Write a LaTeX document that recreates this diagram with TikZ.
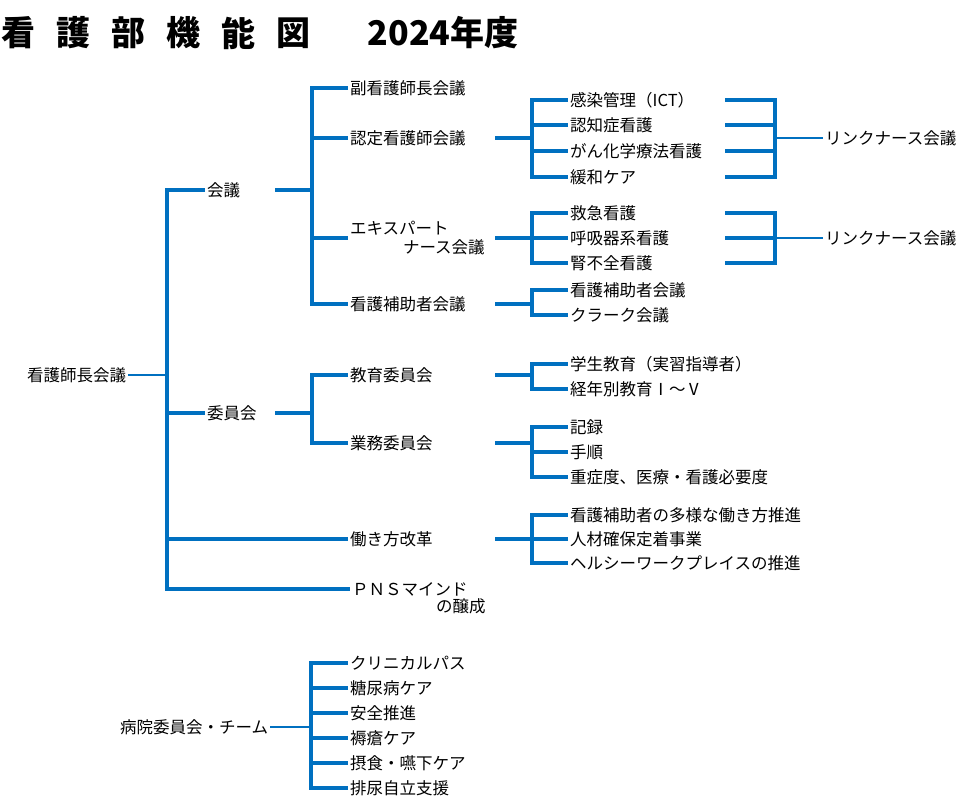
\documentclass[tikz,border=0pt]{standalone}
\usepackage{fontspec}
\newfontfamily\jpfont{Noto Sans CJK JP}
\usetikzlibrary{positioning}
\definecolor{lineblue}{RGB}{0,112,192}

\begin{document}
\begin{tikzpicture}[x=1bp, y=-1bp,
	br/.style={draw=lineblue, line width=3.4bp},
	thinbr/.style={draw=lineblue, line width=2.3bp},
	lbl/.style={anchor=west, inner xsep=2bp, inner ysep=1bp, font=\jpfont\fontsize{16.5bp}{19bp}\selectfont},
	lvone/.style={lbl, text width=66bp, align=left},
	lvtwo/.style={lbl, text width=143bp, align=left},
	lvthree/.style={lbl, text width=153bp, align=left},
	ttl/.style={inner sep=0pt, font=\jpfont\bfseries\fontsize{34bp}{40bp}\selectfont}]
\useasboundingbox (0,0) rectangle (974,803);

% title
\foreach \c [count=\i] in {看,護,部,機,能,図} {
	\node[ttl] (t\i) at ({18+55*(\i-1)},33) {\c};
}
\node[ttl] (year) at (443,33) {2024年度};

% main tree
\node[lbl] (chou) at (25,375) {看護師長会議};
\coordinate (bA) at (167,375);
\node[lvone] (kaigi) at (205,190) {会議};
\node[lvone] (iin) at (205,413) {委員会};
\node[lvtwo] (hataraki) at (348,539) {働き方改革};
\node[lbl] (pns) at (350,589) {ＰＮＳマインド};
\node[lbl, anchor=north east, xshift=18bp] (pns2) at (pns.south east) {の醸成};

\coordinate (bB) at (312,190);
\node[lbl] (fuku) at (348,88) {副看護師長会議};
\node[lvtwo] (nintei) at (348,138) {認定看護師会議};
\node[lvtwo] (expert) at (348,238) {エキスパート\\\hspace*{3.2em}ナース会議};
\node[lvtwo] (hojo) at (348,304) {看護補助者会議};

\coordinate (bC) at (312,413);
\node[lvtwo] (kyoiku) at (348,375) {教育委員会};
\node[lvtwo] (gyomu) at (348,443) {業務委員会};

\draw[thinbr] (chou.east) -- (bA);
\foreach \n in {kaigi,iin,hataraki,pns} {
	\draw[br] (bA) |- (\n.west);
}
\draw[br] (kaigi.east) -- (bB);
\foreach \n in {fuku,nintei,expert,hojo} {
	\draw[br] (bB) |- (\n.west);
}
\draw[br] (iin.east) -- (bC);
\foreach \n in {kyoiku,gyomu} {
	\draw[br] (bC) |- (\n.west);
}

% 認定看護師
\coordinate (cN) at (532,138);
\node[lvthree] (kansen) at (568,100) {感染管理（ICT）};
\node[lvthree] (ninchi) at (568,125) {認知症看護};
\node[lvthree] (gan) at (568,151) {がん化学療法看護};
\node[lvthree] (kanwa) at (568,177) {緩和ケア};
\coordinate (rN) at (775,138);
\node[lbl] (linkN) at (823,138) {リンクナース会議};
\draw[br] (nintei.east) -- (cN);
\foreach \n in {kansen,ninchi,gan,kanwa} {
	\draw[br] (cN) |- (\n.west);
	\draw[br] (\n.east) -| (rN);
}
\draw[thinbr] (rN) -- (linkN.west);

% エキスパート
\coordinate (cE) at (532,238);
\node[lvthree] (kyukyu) at (568,213) {救急看護};
\node[lvthree] (kokyu) at (568,238) {呼吸器系看護};
\node[lvthree] (jin) at (568,263) {腎不全看護};
\coordinate (rE) at (775,238);
\node[lbl] (linkE) at (823,238) {リンクナース会議};
\draw[br] (expert.east) -- (cE);
\foreach \n in {kyukyu,kokyu,jin} {
	\draw[br] (cE) |- (\n.west);
	\draw[br] (\n.east) -| (rE);
}
\draw[thinbr] (rE) -- (linkE.west);

% 看護補助者
\coordinate (cH) at (532,304);
\node[lbl] (hojotwo) at (568,290) {看護補助者会議};
\node[lbl] (clerk) at (568,315) {クラーク会議};
\draw[br] (hojo.east) -- (cH);
\foreach \n in {hojotwo,clerk} {
	\draw[br] (cH) |- (\n.west);
}

% 教育委員会
\coordinate (cK) at (532,375);
\node[lbl] (gakusei) at (568,364) {学生教育（実習指導者）};
\node[lbl] (keinen) at (568,389) {経年別教育Ⅰ～Ⅴ};
\draw[br] (kyoiku.east) -- (cK);
\foreach \n in {gakusei,keinen} {
	\draw[br] (cK) |- (\n.west);
}

% 業務委員会
\coordinate (cG) at (532,443);
\node[lbl] (kiroku) at (568,427) {記録};
\node[lbl] (tejun) at (568,452) {手順};
\node[lbl] (jusho) at (568,477) {重症度、医療・看護必要度};
\draw[br] (gyomu.east) -- (cG);
\foreach \n in {kiroku,tejun,jusho} {
	\draw[br] (cG) |- (\n.west);
}

% 働き方改革
\coordinate (cW) at (532,539);
\node[lbl] (tayo) at (568,515) {看護補助者の多様な働き方推進};
\node[lbl] (jinzai) at (568,539) {人材確保定着事業};
\node[lbl] (health) at (568,563) {ヘルシーワークプレイスの推進};
\draw[br] (hataraki.east) -- (cW);
\foreach \n in {tayo,jinzai,health} {
	\draw[br] (cW) |- (\n.west);
}

% 病院委員会
\node[lbl] (byoin) at (118,727) {病院委員会・チーム};
\coordinate (bD) at (311,727);
\draw[thinbr] (byoin.east) -- (bD);
\foreach \t [count=\i] in {クリニカルパス,糖尿病ケア,安全推進,褥瘡ケア,摂食・嚥下ケア,排尿自立支援} {
	\node[lbl] (team\i) at (348,{663+25*(\i-1)}) {\t};
	\draw[br] (bD) |- (team\i.west);
}
\end{tikzpicture}
\end{document}
